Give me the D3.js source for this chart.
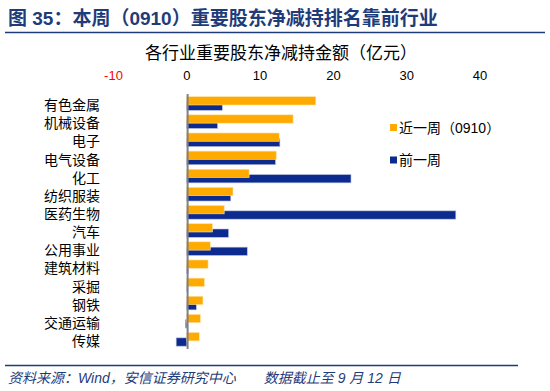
<!DOCTYPE html>
<html>
<head>
<meta charset="utf-8">
<script src="https://cdn.jsdelivr.net/npm/d3@7"></script>
<style>
  body { margin: 0; background: #fff; }
  text { font-family: "Liberation Sans", "Noto Sans CJK SC", sans-serif; }
</style>
</head>
<body>
<div id="chart"></div>
<script>
var w = 550;
var h = 391;

var categories = ["有色金属", "机械设备", "电子", "电气设备", "化工", "纺织服装", "医药生物",
  "汽车", "公用事业", "建筑材料", "采掘", "钢铁", "交通运输", "传媒"];
var thisWeek = [17.6, 14.5, 12.6, 12.2, 8.5, 6.3, 5.1, 3.5, 3.2, 2.9, 2.4, 2.2, 1.85, 1.7];
var lastWeek = [4.85, 4.2, 12.7, 12.1, 22.4, 6.0, 36.7, 5.7, 8.25, 0.2, 0.15, 1.3, -0.2, -1.45];
var ticks = [-10, 0, 10, 20, 30, 40];
var seriesNames = ["近一周（0910）", "前一周"];

var orange = "#FFAA00";
var blue = "#0D2A8E";
var navy = "#1F3C7A";

var xScale = d3.scaleLinear().domain([-10, 40]).range([113.5, 480]);
var yScale = d3.scaleBand().domain(categories).range([96, 350]);

var svg = d3.select("#chart").append("svg").attr("width", w).attr("height", h);

// header
svg.append("text")
  .attr("x", 8)
  .attr("y", 25)
  .attr("font-size", "19px")
  .attr("font-weight", "bold")
  .attr("fill", navy)
  .text("图 35：本周（0910）重要股东净减持排名靠前行业");

svg.append("line")
  .attr("x1", 5).attr("x2", 545)
  .attr("y1", 32.5).attr("y2", 32.5)
  .attr("stroke", navy)
  .attr("stroke-width", 1.5);

svg.append("text")
  .attr("x", 281)
  .attr("y", 59)
  .attr("text-anchor", "middle")
  .attr("font-size", "17px")
  .attr("fill", "#000")
  .text("各行业重要股东净减持金额（亿元）");

// top tick labels
svg.selectAll(".tick-label")
  .data(ticks)
  .enter()
  .append("text")
  .attr("class", "tick-label")
  .attr("x", function (d) { return xScale(d); })
  .attr("y", 80)
  .attr("text-anchor", "middle")
  .attr("font-size", "13px")
  .attr("fill", function (d) { return d < 0 ? "#FF0000" : "#000"; })
  .text(function (d) { return d; });

// bars: blue (前一周) below, orange (近一周) drawn on top
var barH = 8.3;

svg.selectAll(".bar-last")
  .data(lastWeek)
  .enter()
  .append("rect")
  .attr("class", "bar-last")
  .attr("x", function (d) { return xScale(Math.min(0, d)); })
  .attr("y", function (d, i) { return yScale(categories[i]) + 6; })
  .attr("width", function (d) { return Math.abs(xScale(d) - xScale(0)); })
  .attr("height", barH)
  .attr("fill", blue)
  .attr("stroke", "#B8C2E0")
  .attr("stroke-width", 0.6);

svg.selectAll(".bar-this")
  .data(thisWeek)
  .enter()
  .append("rect")
  .attr("class", "bar-this")
  .attr("x", function (d) { return xScale(Math.min(0, d)); })
  .attr("y", function (d, i) { return yScale(categories[i]) + 0.7; })
  .attr("width", function (d) { return Math.abs(xScale(d) - xScale(0)); })
  .attr("height", barH)
  .attr("fill", orange)
  .attr("stroke", "#FFE0A0")
  .attr("stroke-width", 0.6);

// zero axis line
svg.append("line")
  .attr("x1", xScale(0) + 0.8).attr("x2", xScale(0) + 0.8)
  .attr("y1", 94).attr("y2", 349)
  .attr("stroke", "#808080")
  .attr("stroke-width", 2);

// category labels
svg.selectAll(".cat-label")
  .data(categories)
  .enter()
  .append("text")
  .attr("class", "cat-label")
  .attr("x", 100)
  .attr("y", function (d) { return yScale(d) + yScale.bandwidth() / 2 + 5; })
  .attr("text-anchor", "end")
  .attr("font-size", "14px")
  .attr("fill", "#000")
  .text(function (d) { return d; });

// legend
var legend = svg.selectAll(".legend")
  .data(seriesNames)
  .enter()
  .append("g")
  .attr("class", "legend")
  .attr("transform", function (d, i) { return "translate(390," + (124 + i * 32.5) + ")"; });

legend.append("rect")
  .attr("width", 7).attr("height", 7)
  .attr("fill", function (d, i) { return i === 0 ? orange : blue; });

legend.append("text")
  .attr("x", 9)
  .attr("y", 8.5)
  .attr("font-size", "14px")
  .attr("fill", "#000")
  .text(function (d) { return d; });

// footer
svg.append("line")
  .attr("x1", 5).attr("x2", 518)
  .attr("y1", 365.5).attr("y2", 365.5)
  .attr("stroke", navy)
  .attr("stroke-width", 1.5);

svg.append("text")
  .attr("x", 8)
  .attr("y", 383)
  .attr("font-size", "14px")
  .attr("font-style", "italic")
  .attr("fill", navy)
  .text("资料来源：Wind，安信证券研究中心　　数据截止至 9 月 12 日");
</script>
</body>
</html>
